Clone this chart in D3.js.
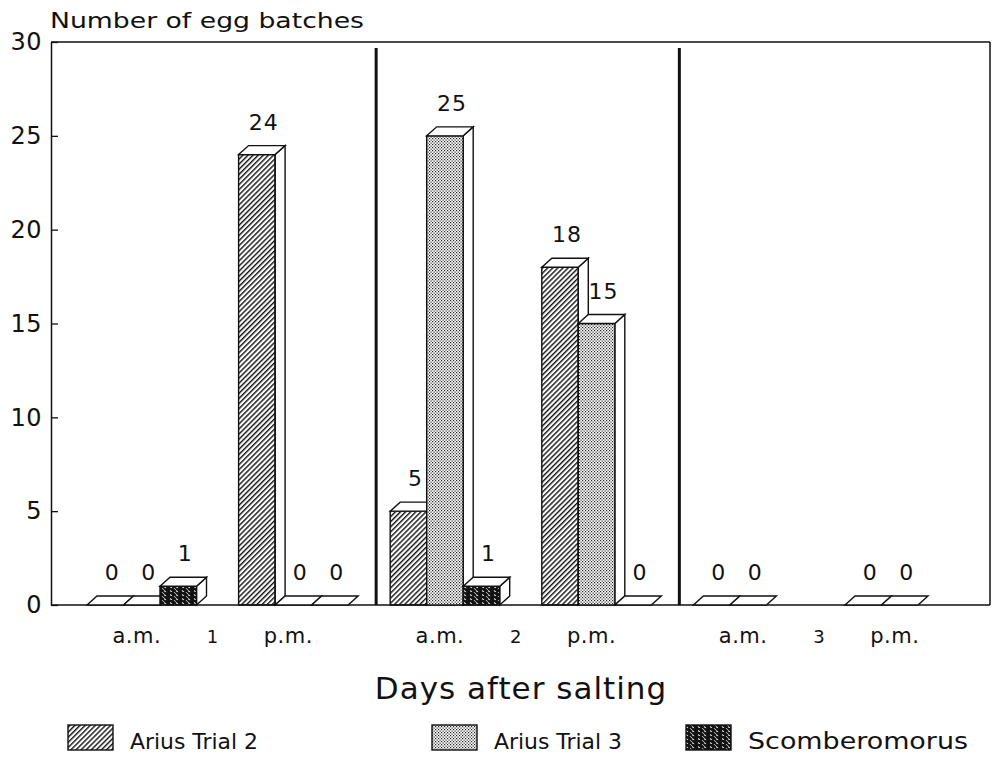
<!DOCTYPE html>
<html>
<head>
<meta charset="utf-8">
<script src="https://cdn.jsdelivr.net/npm/d3@7"></script>
<style>
  body { margin: 0; background: #fff; }
  svg text { font-family: "DejaVu Sans", sans-serif; fill: #111; }
</style>
</head>
<body>
<div id="chart"></div>
<script>
// data
const days = ["1", "2", "3"];
const periods = ["a.m.", "p.m."];
const series = ["Arius Trial 2", "Arius Trial 3", "Scomberomorus"];
// one value per slot: 1 a.m., 1 p.m., 2 a.m., 2 p.m., 3 a.m., 3 p.m.
const ariusTrial2 = [0, 24, 5, 18, 0, 0];
const ariusTrial3 = [0, 0, 25, 15, 0, 0];
const scomberomorus = [1, 0, 1, 0, null, null];
const yTicks = [0, 5, 10, 15, 20, 25, 30];

const width = 994, height = 762;
const plot = { left: 51, right: 990, top: 42, bottom: 605 };
const depth = { dx: 10, dy: 9 };

const svg = d3.select("#chart").append("svg")
  .attr("width", width)
  .attr("height", height);

// fill patterns
const defs = svg.append("defs");
defs.append("pattern")
  .attr("id", "hatch")
  .attr("patternUnits", "userSpaceOnUse")
  .attr("width", 3.6).attr("height", 3.6)
  .attr("patternTransform", "rotate(45)")
  .append("rect")
  .attr("width", 1.4).attr("height", 3.6).attr("fill", "#111");

const dots = defs.append("pattern")
  .attr("id", "dots")
  .attr("patternUnits", "userSpaceOnUse")
  .attr("width", 3).attr("height", 3);
dots.append("rect").attr("width", 3).attr("height", 3).attr("fill", "#fff");
dots.append("rect").attr("x", 0).attr("y", 0).attr("width", 1.2).attr("height", 1.2).attr("fill", "#222");
dots.append("rect").attr("x", 1.5).attr("y", 1.5).attr("width", 1.2).attr("height", 1.2).attr("fill", "#222");

const cross = defs.append("pattern")
  .attr("id", "cross")
  .attr("patternUnits", "userSpaceOnUse")
  .attr("width", 12).attr("height", 4);
cross.append("rect").attr("width", 12).attr("height", 4).attr("fill", "#fff");
cross.append("path")
  .attr("d", "M-2,0L2,4M0,-2L6,4M4,0L8,4M6,-2L12,4M8,0L12,4M10,-2L14,4M-2,-2L2,2M12,0L16,4")
  .attr("stroke", "#111").attr("stroke-width", 2.3);
cross.append("rect").attr("x", 0).attr("width", 1).attr("height", 4).attr("fill", "#111");

const fills = ["url(#hatch)", "url(#dots)", "url(#cross)"];

// scales
const slots = days.flatMap(d => periods.map(p => d + " " + p));
const step = 151.6, groupW = 109.5;
const x = d3.scaleBand()
  .domain(slots)
  .range([87, 87 + 5 * step + groupW])
  .paddingInner(1 - groupW / step)
  .paddingOuter(0)
  .align(0);
const xs = d3.scaleBand().domain(series).range([0, x.bandwidth()]).padding(0);
const y = d3.scaleLinear().domain([0, 30]).range([plot.bottom, plot.top]);

// frame
svg.append("line")
  .attr("x1", plot.left).attr("x2", plot.right)
  .attr("y1", plot.top).attr("y2", plot.top)
  .attr("stroke", "#111").attr("stroke-width", 1.3);
svg.append("line")
  .attr("x1", plot.right).attr("x2", plot.right)
  .attr("y1", plot.top).attr("y2", plot.bottom)
  .attr("stroke", "#111").attr("stroke-width", 1.5);
svg.append("line")
  .attr("x1", plot.left).attr("x2", plot.right)
  .attr("y1", plot.bottom).attr("y2", plot.bottom)
  .attr("stroke", "#111").attr("stroke-width", 1.6);

// day separators
[1, 2].forEach(i => {
  const prevEnd = x(slots[2 * i - 1]) + x.bandwidth() + depth.dx;
  const nextStart = x(slots[2 * i]);
  const sx = (prevEnd + nextStart) / 2 + 2;
  svg.append("line")
    .attr("x1", sx).attr("x2", sx)
    .attr("y1", plot.top + 6).attr("y2", plot.bottom)
    .attr("stroke", "#111").attr("stroke-width", 3);
});

// y axis
const yAxis = svg.append("g")
  .attr("transform", `translate(${plot.left},0)`)
  .call(d3.axisLeft(y).tickValues(yTicks).tickSizeInner(-7).tickSizeOuter(0).tickPadding(9));
yAxis.select(".domain").attr("stroke", "#111").attr("stroke-width", 1.5);
yAxis.selectAll(".tick line").attr("stroke", "#111").attr("stroke-width", 1.3);
yAxis.selectAll(".tick text")
  .attr("font-family", "DejaVu Sans")
  .attr("font-size", 24)
  .attr("letter-spacing", 0.5)
  .attr("fill", "#111");

svg.append("text")
  .attr("x", 50).attr("y", 28)
  .attr("font-size", 22)
  .attr("textLength", 314)
  .attr("lengthAdjust", "spacingAndGlyphs")
  .text("Number of egg batches");

// bars
const values = [ariusTrial2, ariusTrial3, scomberomorus];
const bars = [];
slots.forEach((s, i) => {
  series.forEach((name, k) => {
    const v = values[k][i];
    if (v === null) return;
    bars.push({ slot: s, name, k, v });
  });
});

const g = svg.append("g");
bars.forEach(b => {
  const bx = x(b.slot) + xs(b.name);
  const w = xs.bandwidth();
  const top = y(b.v);
  const base = y(0);
  const { dx, dy } = depth;
  const bar = g.append("g");
  if (b.v > 0) {
    bar.append("path")
      .attr("d", `M${bx + w},${top}L${bx + w + dx},${top - dy}L${bx + w + dx},${base - dy}L${bx + w},${base}Z`)
      .attr("fill", "#fff").attr("stroke", "#111").attr("stroke-width", 1.4);
    bar.append("rect")
      .attr("x", bx).attr("y", top)
      .attr("width", w).attr("height", base - top)
      .attr("fill", fills[b.k]).attr("stroke", "#111").attr("stroke-width", 1.4);
  }
  bar.append("path")
    .attr("d", `M${bx},${top}L${bx + dx},${top - dy}L${bx + w + dx},${top - dy}L${bx + w},${top}Z`)
    .attr("fill", "#fff").attr("stroke", "#111").attr("stroke-width", 1.4);
  bar.append("text")
    .attr("x", bx + (w + dx) / 2 + 2)
    .attr("y", top - dy - 16)
    .attr("text-anchor", "middle")
    .attr("font-size", 22)
    .attr("letter-spacing", 1)
    .text(b.v);
});

// x labels
slots.forEach((s, i) => {
  svg.append("text")
    .attr("x", x(s) + x.bandwidth() / 2 - 5)
    .attr("y", 643)
    .attr("text-anchor", "middle")
    .attr("font-size", 21)
    .attr("letter-spacing", 0.5)
    .text(periods[i % 2]);
});
days.forEach((d, i) => {
  const c = (x(slots[2 * i]) + x(slots[2 * i + 1]) + x.bandwidth()) / 2 - 5;
  svg.append("text")
    .attr("x", c).attr("y", 643)
    .attr("text-anchor", "middle")
    .attr("font-size", 18)
    .text(d);
});

svg.append("text")
  .attr("x", 521).attr("y", 699)
  .attr("text-anchor", "middle")
  .attr("font-size", 31)
  .attr("letter-spacing", 1)
  .text("Days after salting");

// legend
const legendX = [68, 432, 686];
const legendLen = [128, 128, 220];
const legendSize = [22, 22, 23];
const legend = svg.append("g");
series.forEach((name, k) => {
  legend.append("rect")
    .attr("x", legendX[k]).attr("y", 725)
    .attr("width", 45).attr("height", 25)
    .attr("fill", fills[k]).attr("stroke", "#111").attr("stroke-width", 1.4);
  legend.append("text")
    .attr("x", legendX[k] + 62).attr("y", 749)
    .attr("font-size", legendSize[k])
    .attr("textLength", legendLen[k])
    .attr("lengthAdjust", "spacingAndGlyphs")
    .text(name);
});
</script>
</body>
</html>
